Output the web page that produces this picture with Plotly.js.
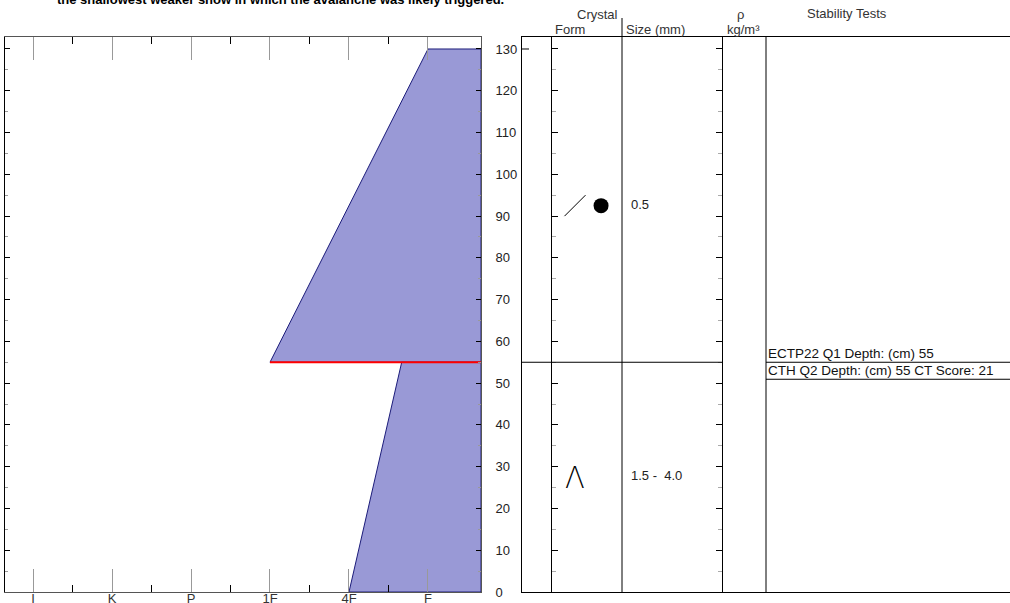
<!DOCTYPE html>
<html><head><meta charset="utf-8">
<script src="https://cdn.plot.ly/plotly-3.0.1.min.js"></script>
<style>html,body{margin:0;padding:0;background:#fff;overflow:hidden}#chart{width:1010px;height:603px}</style>
</head><body><div id="chart"></div>
<script>
// ---- data ----
const hardnessLabels = ['I', 'K', 'P', '1F', '4F', 'F'];
const hardnessValues = [1, 2, 3, 4, 5, 6];
const layerTops = [130, 55];
const layerBottoms = [55, 0];
const hardnessAtTop = [6, 5.667];     // F, F+
const hardnessAtBottom = [4, 5];      // 1F, 4F
const grainSizes = ['0.5', '1.5 -\u00a0 4.0'];
const failureDepth = 55;
const stabilityTests = ['ECTP22 Q1 Depth: (cm) 55', 'CTH Q2 Depth: (cm) 55 CT Score: 21'];
const titleText = 'the shallowest weaker snow in which the avalanche was likely triggered.';

// ---- layout constants ----
const W = 1010, H = 603;
const FONT = 'Liberation Sans, Arial, sans-serif';
const XMIN = 0.6456, XMAX = 6.671;
const YMAX = 132.87;
const px = v => v / W;
const py = v => 1 - v / H;
const yDomain = [py(592), py(37)];
const minorHard = hardnessValues.slice(0, -1).map(v => v + 0.5);
const mids = layerTops.map((t, i) => (t + layerBottoms[i]) / 2);

const traces = [];
layerTops.forEach((top, i) => {
  const bot = layerBottoms[i];
  traces.push({
    type: 'scatter', mode: 'lines', xaxis: 'x', yaxis: 'y',
    x: [hardnessAtTop[i], hardnessAtBottom[i], XMAX, XMAX, hardnessAtTop[i]],
    y: [top, bot, bot, top, top],
    fill: 'toself', fillcolor: '#9999d6',
    line: {color: '#1c1c7a', width: 1}, hoverinfo: 'skip'
  });
});
traces.push({
  type: 'scatter', mode: 'lines', xaxis: 'x', yaxis: 'y',
  x: [hardnessAtBottom[0], XMAX], y: [failureDepth, failureDepth],
  line: {color: '#ff0000', width: 2}, hoverinfo: 'skip'
});
// empty traces so overlay axes get drawn
traces.push({type: 'scatter', x: [null], y: [null], xaxis: 'x3', yaxis: 'y', hoverinfo: 'skip'});
traces.push({type: 'scatter', x: [null], y: [null], xaxis: 'x', yaxis: 'y2', hoverinfo: 'skip'});
traces.push({type: 'scatter', x: [null], y: [null], xaxis: 'x2', yaxis: 'y4', hoverinfo: 'skip'});
traces.push({type: 'scatter', x: [null], y: [null], xaxis: 'x2', yaxis: 'y5', hoverinfo: 'skip'});
// grain form symbols
traces.push({
  type: 'scatter', mode: 'markers', xaxis: 'x2', yaxis: 'y3',
  x: [0.1086], y: [mids[0]],
  marker: {symbol: 'line-ne', size: 21, color: '#000', line: {color: '#000', width: 1}}, hoverinfo: 'skip'
});
traces.push({
  type: 'scatter', mode: 'markers', xaxis: 'x2', yaxis: 'y3',
  x: [0.162], y: [mids[0]],
  marker: {symbol: 'circle', size: 15, color: '#000'}, hoverinfo: 'skip'
});
traces.push({
  type: 'scatter', mode: 'text', xaxis: 'x2', yaxis: 'y3',
  x: [0.2234, 0.2234], y: mids, text: grainSizes, textposition: 'middle right',
  textfont: {family: FONT, size: 13, color: '#222'}, hoverinfo: 'skip'
});

const hardAxis = {
  domain: [px(5), px(481)], range: [XMIN, XMAX],
  tickmode: 'array', tickvals: hardnessValues, ticktext: hardnessLabels,
  ticks: 'inside', ticklen: 23, tickcolor: '#999', tickwidth: 1,
  minor: {tickmode: 'array', tickvals: minorHard, ticks: 'inside', ticklen: 7, tickcolor: '#000', tickwidth: 1},
  showline: true, linecolor: '#555', linewidth: 1,
  showgrid: false, zeroline: false, fixedrange: true,
  tickfont: {family: FONT, size: 13, color: '#333'}
};
const depthTicks = {
  range: [0, YMAX], tickmode: 'linear', tick0: 0, dtick: 10,
  ticks: 'inside', ticklen: 5, tickcolor: '#000', tickwidth: 1,
  minor: {tickmode: 'linear', tick0: 0, dtick: 5, ticks: 'inside', ticklen: 3, tickcolor: '#999', tickwidth: 1},
  showgrid: false, zeroline: false, fixedrange: true
};
const colTicks = Object.assign({}, depthTicks, {
  ticklen: 6,
  minor: {tickmode: 'linear', tick0: 0, dtick: 5, ticks: 'inside', ticklen: 4, tickcolor: '#aaa', tickwidth: 1},
  showline: true, linecolor: '#000', linewidth: 1, showticklabels: false
});

const hdr = (x, y, anchor, text) => ({
  xref: 'paper', yref: 'paper', x: px(x), y: py(y), xanchor: anchor, yanchor: 'middle',
  showarrow: false, text: text, font: {family: FONT, size: 13, color: '#333'}
});

const layout = {
  width: W, height: H,
  margin: {l: 0, r: 0, t: 0, b: 0, pad: 0},
  paper_bgcolor: '#fff', plot_bgcolor: 'rgba(0,0,0,0)',
  showlegend: false,
  font: {family: FONT, size: 13, color: '#222'},
  xaxis: Object.assign({}, hardAxis, {anchor: 'y', side: 'bottom', ticklabelstandoff: -6}),
  xaxis3: Object.assign({}, hardAxis, {anchor: 'y', side: 'top', overlaying: 'x', showticklabels: false}),
  yaxis: Object.assign({}, depthTicks, {
    domain: yDomain, anchor: 'x', side: 'right',
    showline: true, linecolor: '#555', linewidth: 1,
    ticklabelstandoff: 11,
    tickfont: {family: FONT, size: 13, color: '#222'}
  }),
  yaxis2: Object.assign({}, depthTicks, {
    anchor: 'x', side: 'left', overlaying: 'y',
    showline: true, linecolor: '#000', linewidth: 1, showticklabels: false
  }),
  xaxis2: {
    domain: [px(522), 1], range: [0, 1], anchor: 'y3',
    showline: true, mirror: true, linecolor: '#000', linewidth: 1,
    ticks: '', showticklabels: false, showgrid: false, zeroline: false, fixedrange: true
  },
  yaxis3: {
    domain: yDomain, range: [0, YMAX], anchor: 'x2',
    showline: true, linecolor: '#000', linewidth: 1,
    ticks: '', showticklabels: false, showgrid: false, zeroline: false, fixedrange: true
  },
  yaxis4: Object.assign({}, colTicks, {overlaying: 'y3', anchor: 'free', position: px(551), side: 'left'}),
  yaxis5: Object.assign({}, colTicks, {overlaying: 'y3', anchor: 'free', position: px(722), side: 'right'}),
  shapes: [
    {type: 'line', xref: 'paper', yref: 'paper', x0: px(622), x1: px(622), y0: py(18), y1: py(592), line: {color: '#000', width: 1}},
    {type: 'line', xref: 'paper', yref: 'paper', x0: px(766), x1: px(766), y0: py(37), y1: py(592), line: {color: '#000', width: 1}},
    {type: 'line', xref: 'paper', yref: 'y3', x0: px(522), x1: px(529), y0: layerTops[0], y1: layerTops[0], line: {color: '#000', width: 1}},
    {type: 'line', xref: 'paper', yref: 'y3', x0: px(522), x1: px(722), y0: failureDepth, y1: failureDepth, line: {color: '#000', width: 1}},
    {type: 'line', xref: 'paper', yref: 'y3', x0: px(766), x1: 1, y0: failureDepth, y1: failureDepth, line: {color: '#000', width: 1}},
    {type: 'line', xref: 'paper', yref: 'y3', ysizemode: 'pixel', yanchor: failureDepth, x0: px(766), x1: 1, y0: -17, y1: -17, line: {color: '#000', width: 1}}
  ],
  annotations: [
    {xref: 'paper', yref: 'paper', x: px(280), y: 1, yshift: 1, xanchor: 'center', yanchor: 'middle', showarrow: false,
     text: '<b>' + titleText + '</b>', font: {family: FONT, size: 13, color: '#000'}},
    hdr(620, 14, 'right', 'Crystal'),
    hdr(553, 30, 'left', 'Form'),
    hdr(624, 30, 'left', 'Size (mm)'),
    hdr(740, 14, 'center', '\u03C1'),
    hdr(743, 30, 'center', 'kg/m\u00B3'),
    hdr(847, 13, 'center', 'Stability Tests'),
    {xref: 'x2', yref: 'y3', x: 0.1086, y: mids[1], yshift: 0, xanchor: 'center', yanchor: 'middle', showarrow: false,
     text: '\u039B', font: {family: 'Inter, DejaVu Sans', size: 30, color: '#000', weight: 200}},
    {xref: 'paper', yref: 'y3', x: px(766), y: failureDepth, yshift: -1, xanchor: 'left', yanchor: 'bottom', showarrow: false,
     text: stabilityTests[0], font: {family: FONT, size: 13.5, color: '#111'}},
    {xref: 'paper', yref: 'y3', x: px(766), y: failureDepth, yshift: 1, xanchor: 'left', yanchor: 'top', showarrow: false,
     text: stabilityTests[1], font: {family: FONT, size: 13.5, color: '#111'}}
  ]
};

Plotly.newPlot('chart', traces, layout, {staticPlot: true, displayModeBar: false});
</script>
</body></html>
